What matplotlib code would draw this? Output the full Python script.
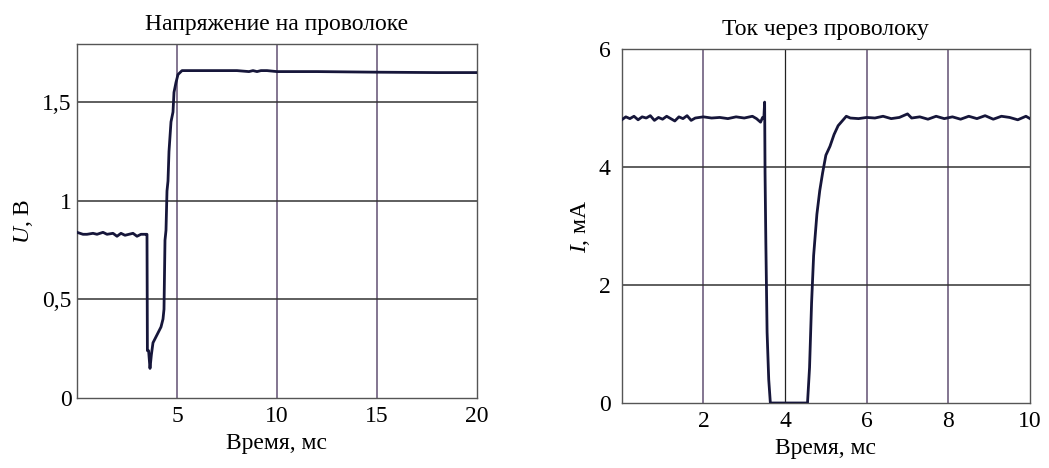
"""Voltage and current through the wire vs time, two panels"""

import matplotlib
matplotlib.use('Agg')
import matplotlib.pyplot as plt

plt.rcParams['font.family'] = ['Liberation Serif', 'DejaVu Serif']
plt.rcParams['mathtext.fontset'] = 'custom'
plt.rcParams['mathtext.it'] = 'Liberation Serif:italic'
plt.rcParams['mathtext.rm'] = 'Liberation Serif'

# Voltage on the wire, ms / V
t_u = [0.0, 0.3, 0.5, 0.8, 1.0, 1.3, 1.5, 1.8, 2.0, 2.2, 2.4, 2.6, 2.8,
       3.0, 3.2, 3.45, 3.5, 3.52, 3.58, 3.65, 3.72, 3.8, 3.9, 4.0, 4.1,
       4.2, 4.3, 4.35, 4.4, 4.45, 4.5, 4.55, 4.6, 4.7, 4.8, 4.85, 4.95,
       5.05, 5.25, 6.0, 7.0, 8.0, 8.6, 8.8, 9.0, 9.2, 9.5, 10.0, 12.0,
       15.0, 18.0, 20.0]
u = [0.84, 0.83, 0.83, 0.835, 0.83, 0.84, 0.83, 0.835, 0.82, 0.835, 0.825,
     0.83, 0.835, 0.82, 0.83, 0.83, 0.83, 0.24, 0.24, 0.15, 0.22, 0.28,
     0.30, 0.32, 0.34, 0.36, 0.40, 0.45, 0.80, 0.85, 1.05, 1.10, 1.25,
     1.40, 1.45, 1.55, 1.60, 1.64, 1.66, 1.66, 1.66, 1.66, 1.655, 1.66,
     1.655, 1.66, 1.66, 1.655, 1.655, 1.652, 1.65, 1.65]

# Current through the wire, ms / mA
t_i = [0.0, 0.1, 0.2, 0.3, 0.4, 0.5, 0.6, 0.7, 0.8, 0.9,
       1.0, 1.1, 1.2, 1.3, 1.4, 1.5, 1.6, 1.7, 1.8, 1.9,
       2.0, 2.2, 2.4, 2.6, 2.8, 3.0, 3.2, 3.3, 3.4, 3.45,
       3.48, 3.5, 3.51, 3.53, 3.56, 3.6, 3.64, 4.55, 4.6, 4.65,
       4.7, 4.78, 4.85, 4.92, 5.0, 5.1, 5.2, 5.3, 5.4, 5.5,
       5.6, 5.8, 6.0, 6.2, 6.4, 6.6, 6.8, 7.0, 7.1, 7.3,
       7.5, 7.7, 7.9, 8.1, 8.3, 8.5, 8.7, 8.9, 9.1, 9.3,
       9.5, 9.7, 9.9, 10.0]
i_ma = [4.80, 4.85, 4.82, 4.86, 4.80, 4.85, 4.83, 4.87, 4.79, 4.84,
        4.81, 4.86, 4.82, 4.78, 4.85, 4.82, 4.87, 4.79, 4.83, 4.84,
        4.85, 4.83, 4.84, 4.82, 4.85, 4.83, 4.86, 4.82, 4.76, 4.84,
        4.82, 5.10, 3.90, 2.70, 1.20, 0.40, 0.0, 0.0, 0.6, 1.7,
        2.5, 3.2, 3.6, 3.9, 4.2, 4.35, 4.55, 4.70, 4.78, 4.86,
        4.83, 4.82, 4.84, 4.83, 4.86, 4.82, 4.84, 4.90, 4.83, 4.85,
        4.81, 4.86, 4.82, 4.85, 4.81, 4.86, 4.82, 4.87, 4.81, 4.86,
        4.84, 4.80, 4.86, 4.82]

u_ticks = [0, 0.5, 1, 1.5]
u_labels = ['0', '0,5', '1', '1,5']
tu_ticks = [5, 10, 15, 20]
i_ticks = [0, 2, 4, 6]
ti_ticks = [2, 4, 6, 8, 10]

line_col = '#16163a'
vgrid = '#7a6a88'
hgrid = '#333333'
fs = 17

fig = plt.figure(figsize=(10.49, 4.68), dpi=100)
ax1 = fig.add_axes([0.0734, 0.1496, 0.3813, 0.756])
ax2 = fig.add_axes([0.5927, 0.1389, 0.3892, 0.7564])

# left panel
ax1.plot(t_u, u, color=line_col, lw=2.0, zorder=3)
ax1.set_xlim(0, 20)
ax1.set_ylim(0, 1.794)
ax1.set_xticks(tu_ticks)
ax1.set_yticks(u_ticks)
ax1.set_yticklabels(u_labels)
for x in [5, 10, 15]:
    ax1.axvline(x, color=vgrid, lw=1.3, zorder=1)
for y in [0.5, 1, 1.5]:
    ax1.axhline(y, color=hgrid, lw=1.1, zorder=1)
ax1.set_title('Напряжение на проволоке', fontsize=fs, pad=10)
ax1.set_xlabel('Время, мс', fontsize=fs, labelpad=4)
ax1.set_ylabel('$U$, В', fontsize=fs, labelpad=5)
ax1.tick_params(axis='y', pad=4)

# right panel
ax2.plot(t_i, i_ma, color=line_col, lw=2.0, zorder=3)
ax2.set_xlim(0, 10)
ax2.set_ylim(0, 6)
ax2.set_xticks(ti_ticks)
ax2.set_yticks(i_ticks)
for x in [2, 6, 8]:
    ax2.axvline(x, color=vgrid, lw=1.3, zorder=1)
ax2.axvline(4, color='#222222', lw=0.9, zorder=1)
for y in [2, 4]:
    ax2.axhline(y, color=hgrid, lw=1.1, zorder=1)
ax2.set_title('Ток через проволоку', fontsize=fs, pad=10)
ax2.set_xlabel('Время, мс', fontsize=fs, labelpad=4)
ax2.set_ylabel('$I$, мА', fontsize=fs, labelpad=5)
ax2.tick_params(axis='y', pad=8)

for ax in (ax1, ax2):
    ax.tick_params(length=0, labelsize=fs)
    ax.tick_params(axis='x', pad=6)
    for s in ax.spines.values():
        s.set_color('#555555')
        s.set_linewidth(1.0)

fig.savefig('out.png', dpi=100)
